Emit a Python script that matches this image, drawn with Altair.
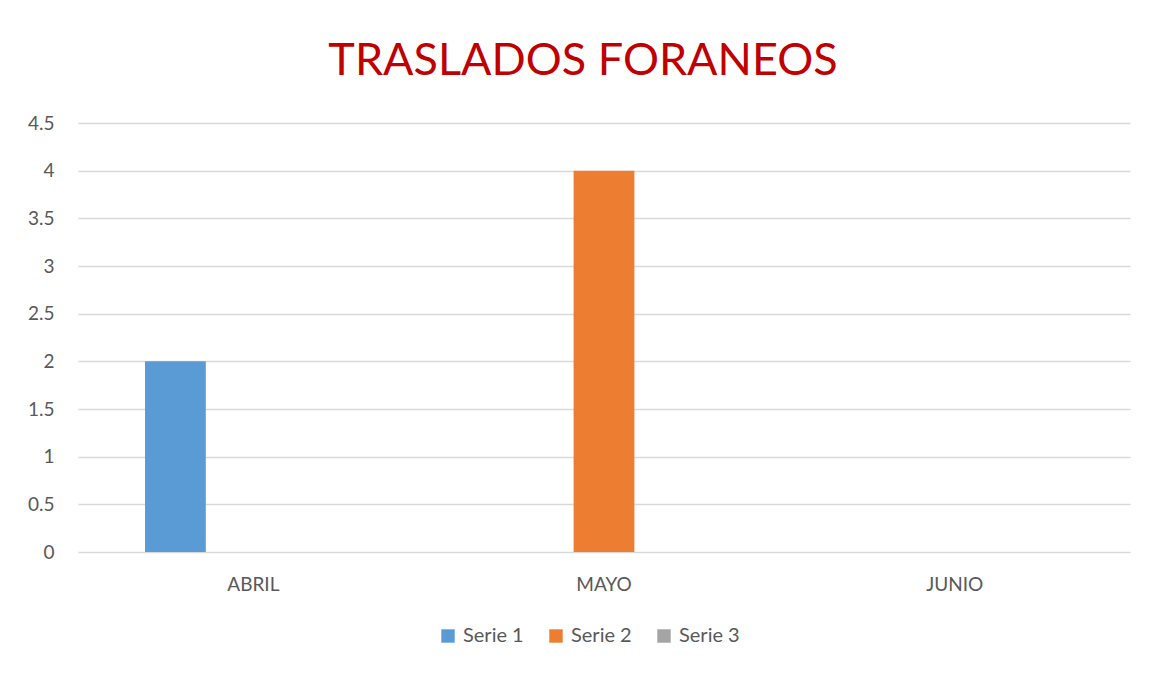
import altair as alt
import pandas as pd

categories = ["ABRIL", "MAYO", "JUNIO"]
series_names = ["Serie 1", "Serie 2", "Serie 3"]
serie1 = [2, 0, 0]
serie2 = [0, 4, 0]
serie3 = [0, 0, 0]
colors = ["#5B9BD5", "#ED7D31", "#A5A5A5"]

rows = []
for name, vals in zip(series_names, [serie1, serie2, serie3]):
    for c, v in zip(categories, vals):
        rows.append({"mes": c, "serie": name, "valor": v})
df = pd.DataFrame(rows)

FONT = "Lato"
TXT = "#595959"

chart = alt.Chart(df).mark_bar().encode(
    x=alt.X("mes:N", sort=categories, title=None,
            scale=alt.Scale(paddingInner=0, paddingOuter=0),
            axis=alt.Axis(labelAngle=0, domain=False, ticks=False, labelPadding=23,
                          labelFontSize=19, labelColor=TXT, labelFont=FONT)),
    xOffset=alt.XOffset("serie:N", sort=series_names,
                        scale=alt.Scale(paddingInner=0.22, paddingOuter=0.86)),
    y=alt.Y("valor:Q", title=None,
            scale=alt.Scale(domain=[0, 4.5], nice=False),
            axis=alt.Axis(values=[0, 0.5, 1, 1.5, 2, 2.5, 3, 3.5, 4, 4.5],
                          format="~g",
                          domain=False, ticks=False, labelPadding=24,
                          labelFontSize=19, labelColor=TXT, labelFont=FONT,
                          gridColor="#D9D9D9", gridWidth=1.3)),
    color=alt.Color("serie:N", sort=series_names,
                    scale=alt.Scale(domain=series_names, range=colors),
                    legend=alt.Legend(title=None, orient="none", direction="horizontal",
                                      legendX=360, legendY=503,
                                      symbolType="square", symbolSize=180,
                                      symbolStrokeWidth=0,
                                      labelFontSize=20, labelColor=TXT, labelFont=FONT,
                                      columnPadding=22, labelOffset=5)),
).properties(
    width=1052,
    height=429,
    background="white",
    title=alt.TitleParams("TRASLADOS FORANEOS", fontSize=45, color="#C00000",
                          font=FONT, fontWeight="normal", anchor="middle",
                          dx=-21, offset=30),
    padding={"left": 70, "top": 115, "right": 20, "bottom": 110},
    autosize=alt.AutoSizeParams(type="none"),
).configure_view(strokeWidth=0, stroke="transparent")

chart.save("out.html", embed_options={"renderer": "svg", "actions": False})
